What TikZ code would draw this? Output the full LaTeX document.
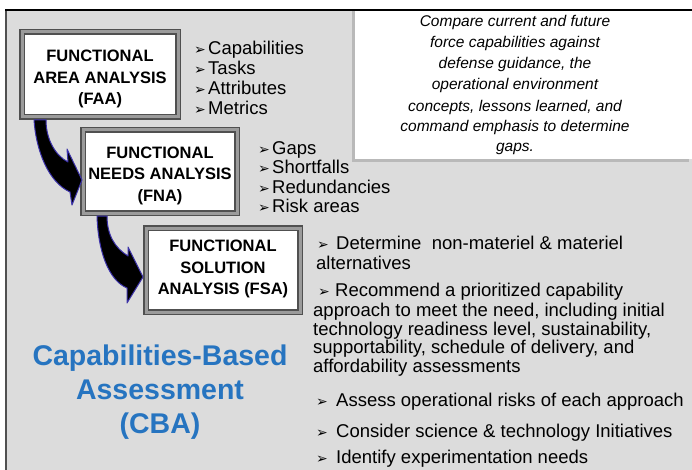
\documentclass[tikz,border=0pt]{standalone}
\usepackage{fontspec}
\setmainfont{Liberation Sans}
\newfontfamily\dejavu{DejaVu Sans}
\usetikzlibrary{calc}
\definecolor{bgray}{RGB}{220,220,220}
\definecolor{cbablue}{RGB}{38,116,192}
\definecolor{arrowedge}{RGB}{60,50,170}
\definecolor{framedark}{RGB}{80,80,80}
\definecolor{framemid}{RGB}{155,155,155}
\definecolor{shadowgray}{RGB}{185,185,185}
\newcommand{\bul}{{\dejavu\fontsize{14}{14}\selectfont ➢}}
\begin{document}
\begin{tikzpicture}[x=1pt,y=-1pt,
  box/.style={draw=framedark, double=framemid, double distance=3pt, line width=1.5pt, fill=white, inner sep=0pt, outer sep=0pt},
  boxtext/.style={font=\bfseries\fontsize{16.5}{21.5}\selectfont, align=center, inner sep=0pt},
  item/.style={font=\fontsize{18.5}{19}\selectfont, anchor=base west, inner sep=0pt},
  bullet/.style={anchor=base west, inner sep=0pt},
  note/.style={font=\itshape\fontsize{15.5}{20.8}\selectfont, anchor=base, inner sep=0pt},
  cba/.style={font=\bfseries\fontsize{28.5}{34}\selectfont, text=cbablue, anchor=base, inner sep=0pt},
  flow/.style={fill=black, draw=arrowedge, line width=1pt, line join=round}
]
\useasboundingbox (0,0) rectangle (692,470);
% background and frame
\fill[white] (0,0) rectangle (692,470);
\fill[bgray] (6,10) rectangle (692,470);
\draw[framedark, line width=2pt] (6,10) -- (6,470);
% note box with shadow
\fill[shadowgray] (352,10) rectangle (689,162);
\fill[white] (355,10) rectangle (692,159);
\draw[black, line width=1.5pt] (5,10) -- (692,10);

% note text
\node[note] (n1) at (515,26.7) {Compare current and future};
\node[note] (n2) at (515,47.7) {force capabilities against};
\node[note] (n3) at (515,68.3) {defense guidance, the};
\node[note] (n4) at (515,90) {operational environment};
\node[note] (n5) at (515,111.7) {concepts, lessons learned, and};
\node[note] (n6) at (515,131.7) {command emphasis to determine};
\node[note] (n7) at (515,151.7) {gaps.};

% analysis boxes
\node[box, minimum width=156, minimum height=85] (faa) at (100,74.5) {};
\node[box, minimum width=154, minimum height=83] (fna) at (160,171.5) {};
\node[box, minimum width=154, minimum height=84] (fsa) at (223,270) {};
\node[boxtext] (faat) at (100,79) {FUNCTIONAL\\AREA ANALYSIS\\(FAA)};
\node[boxtext] (fnat) at (160,175.6) {FUNCTIONAL\\NEEDS ANALYSIS\\(FNA)};
\node[boxtext] (fsat) at (223,269) {FUNCTIONAL\\SOLUTION\\ANALYSIS (FSA)};

% curved arrows
\coordinate (t1) at ($(faa.south west)+(12,3)$);
\coordinate (h1) at ($(fna.west)+(-1,8.5)$);
\draw[flow] (t1) .. controls ($(t1)+(2,30)$) and ($(h1)+(-34,2)$) .. ($(h1)+(-12,12)$)
  -- ($(h1)+(-10,25)$) -- (h1) -- ($(h1)+(-15,-31)$) -- ($(h1)+(-14,-18)$)
  .. controls ($(h1)+(-26,-24)$) and ($(t1)+(12,20)$) .. ($(t1)+(12,0)$) -- cycle;
\coordinate (t2) at ($(fna.south west)+(14,3)$);
\coordinate (h2) at ($(fsa.west)+(-3,7)$);
\draw[flow] (t2) .. controls ($(t2)+(1,34)$) and ($(h2)+(-35,3)$) .. ($(h2)+(-16,11)$)
  -- ($(h2)+(-16,26)$) -- (h2) -- ($(h2)+(-15,-30)$) -- ($(h2)+(-15,-21)$)
  .. controls ($(h2)+(-28,-29)$) and ($(t2)+(10,19)$) .. ($(t2)+(10,0)$) -- cycle;

% FAA list
\foreach \t [count=\i] in {Capabilities,Tasks,Attributes,Metrics} {
  \node[bullet] (faab\i) at (194,35+20*\i) {\bul};
  \node[item] (faai\i) at (208,35+20*\i) {\t};
}
% FNA list
\foreach \t [count=\i] in {Gaps,Shortfalls,Redundancies,Risk areas} {
  \node[bullet] (fnab\i) at (258,134.5+19.6*\i) {\bul};
  \node[item] (fnai\i) at (272,134.5+19.6*\i) {\t};
}
% FSA list
\node[bullet] (fsab1) at (317,249.3) {\bul};
\node[item] (fsai1) at (336,249.3) {Determine\ \ non-materiel \& materiel};
\node[item] (fsai1b) at (316,269.3) {alternatives};
\node[bullet] (fsab2) at (318,296.7) {\bul};
\node[item] (fsai2) at (335,296.7) {Recommend a prioritized capability};
\node[item] (fsai2b) at (313,316.5) {approach to meet the need, including initial};
\node[item] (fsai2c) at (313,335) {technology readiness level, sustainability,};
\node[item] (fsai2d) at (313,353.5) {supportability, schedule of delivery, and};
\node[item] (fsai2e) at (313,372) {affordability assessments};
\node[bullet] (fsab3) at (316,406.7) {\bul};
\node[item] (fsai3) at (336,406.7) {Assess operational risks of each approach};
\node[bullet] (fsab4) at (316,437.3) {\bul};
\node[item] (fsai4) at (336,437.3) {Consider science \& technology Initiatives};
\node[bullet] (fsab5) at (316,463.3) {\bul};
\node[item] (fsai5) at (336,463.3) {Identify experimentation needs};

% CBA title
\node[cba] (cba1) at (160,365) {Capabilities-Based};
\node[cba] (cba2) at (160,399) {Assessment};
\node[cba] (cba3) at (160,433) {(CBA)};
\end{tikzpicture}
\end{document}
